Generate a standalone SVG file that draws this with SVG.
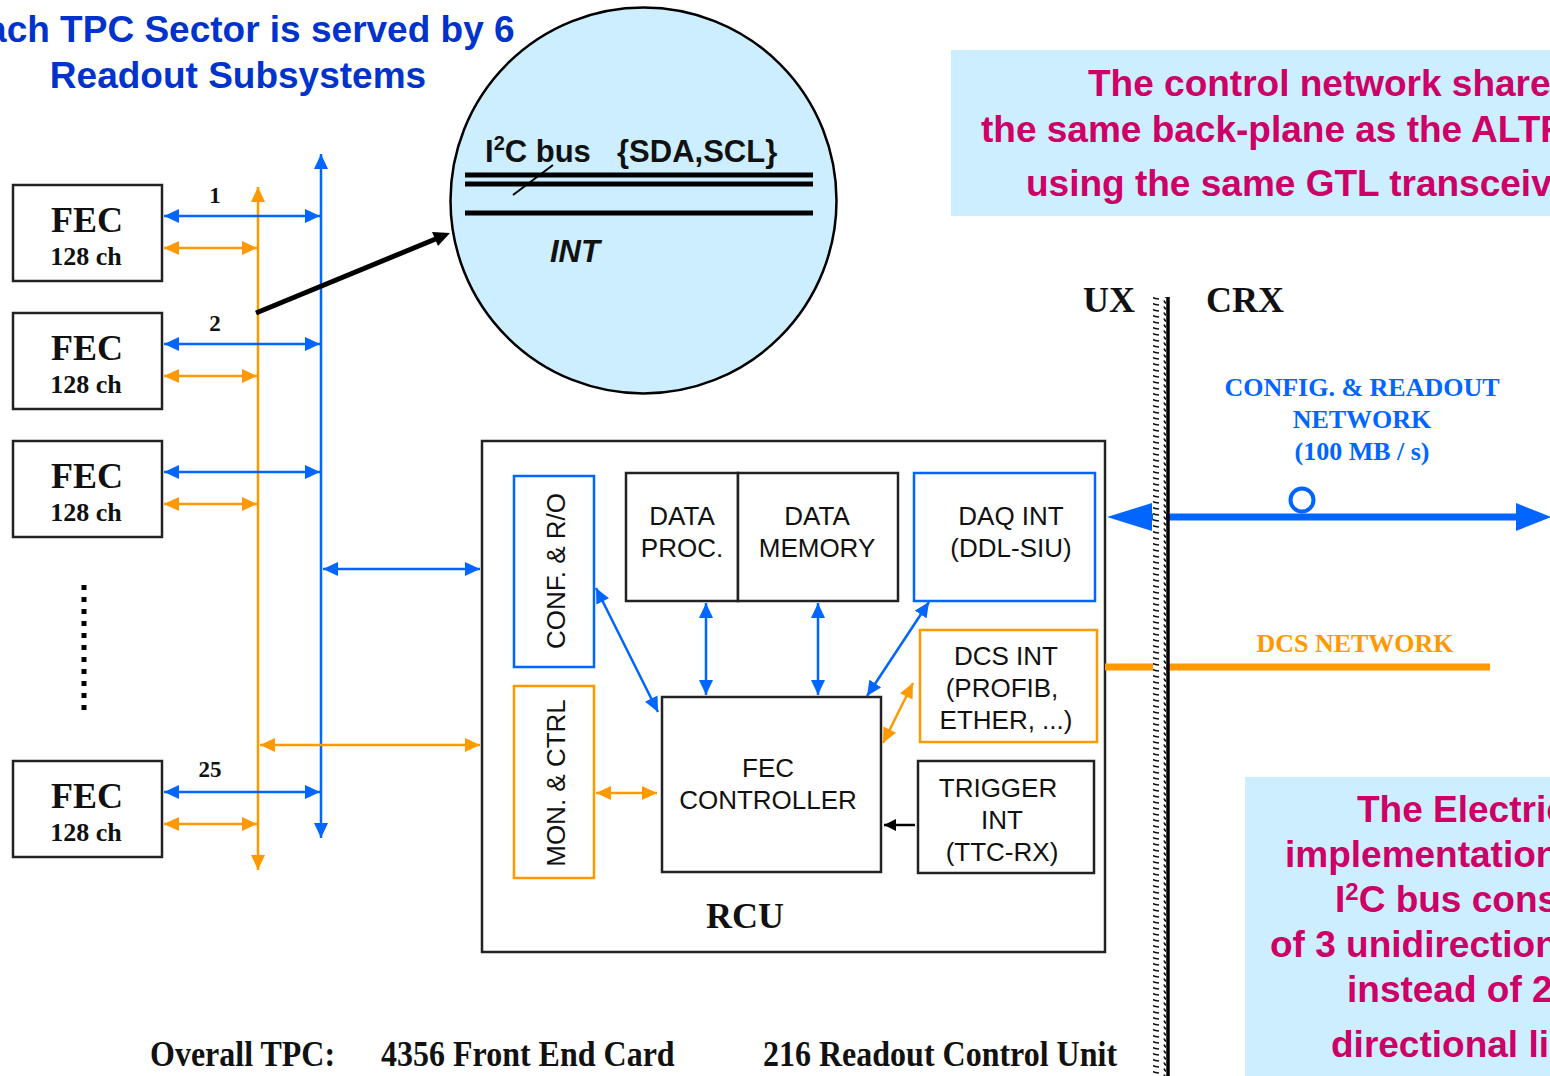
<svg xmlns="http://www.w3.org/2000/svg" width="1550" height="1076" viewBox="0 0 1550 1076">
<style>
.box{fill:#fff;stroke:#222;stroke-width:2.5}
.bbox{fill:#fff;stroke:#0066ff;stroke-width:2.5}
.obox{fill:#fff;stroke:#ff9900;stroke-width:2.5}
.tb{font-family:"Liberation Serif","Times New Roman",serif;font-weight:bold;fill:#111}
.ar{font-family:"Liberation Sans",Arial,sans-serif;fill:#111}
.blue{stroke:#0066ff;stroke-width:2.5;fill:none}
.orange{stroke:#ff9900;stroke-width:2.5;fill:none}
.mag{font-family:"Liberation Sans",Arial,sans-serif;font-weight:bold;fill:#cc0066;font-size:37px}
.bl{marker-start:url(#mb);marker-end:url(#mb)}
.ol{marker-start:url(#mo);marker-end:url(#mo)}
</style>
<defs>
<marker id="mb" viewBox="0 0 15 14" refX="15" refY="7" markerWidth="15" markerHeight="14" markerUnits="userSpaceOnUse" orient="auto-start-reverse"><path d="M0,0 L15,7 L0,14 z" fill="#0066ff"/></marker>
<marker id="mo" viewBox="0 0 15 14" refX="15" refY="7" markerWidth="15" markerHeight="14" markerUnits="userSpaceOnUse" orient="auto-start-reverse"><path d="M0,0 L15,7 L0,14 z" fill="#ff9900"/></marker>
<marker id="mk" viewBox="0 0 12 12" refX="12" refY="6" markerWidth="12" markerHeight="12" markerUnits="userSpaceOnUse" orient="auto"><path d="M0,0 L12,6 L0,12 z" fill="#000"/></marker>
<pattern id="hatch" width="14" height="6" patternUnits="userSpaceOnUse"><rect width="14" height="6" fill="#fff"/><path d="M2,0.5 Q3,4.5 11,5" stroke="#111" stroke-width="1.6" fill="none"/></pattern>
</defs>
<rect width="1550" height="1076" fill="#fff"/>

<g id="title" font-family="'Liberation Sans',Arial,sans-serif" font-weight="bold" font-size="37" fill="#0033cc" text-anchor="middle">
<text x="238" y="42">Each TPC Sector is served by 6</text>
<text x="238" y="88">Readout Subsystems</text>
</g>

<g id="note-top">
<rect x="951" y="50" width="600" height="166" fill="#cceeff"/>
<text class="mag" x="1088" y="96">The control network share</text>
<text class="mag" x="981" y="142">the same back-plane as the ALTR</text>
<text class="mag" x="1026" y="196">using the same GTL transceiv</text>
</g>

<g id="note-bottom">
<rect x="1245" y="777" width="306" height="300" fill="#cceeff"/>
<text class="mag" x="1357" y="822">The Electric</text>
<text class="mag" x="1285" y="867">implementation</text>
<text class="mag" x="1335" y="912">I<tspan font-size="24" dy="-12">2</tspan><tspan dy="12">C bus cons</tspan></text>
<text class="mag" x="1270" y="957">of 3 unidirection</text>
<text class="mag" x="1347" y="1002">instead of 2</text>
<text class="mag" x="1331" y="1057">directional li</text>
</g>

<g id="zoom-circle">
<circle cx="643.5" cy="200.5" r="193" fill="#cceeff" stroke="#000" stroke-width="2.5"/>
<text class="ar" font-weight="bold" font-size="31" x="485" y="162">I<tspan font-size="20" dy="-12">2</tspan><tspan dy="12">C bus</tspan></text>
<text class="ar" font-weight="bold" font-size="31" x="617" y="162">{SDA,SCL}</text>
<line x1="465" y1="175" x2="813" y2="175" stroke="#000" stroke-width="5"/>
<line x1="465" y1="184" x2="813" y2="184" stroke="#000" stroke-width="5"/>
<line x1="465" y1="213" x2="813" y2="213" stroke="#000" stroke-width="5"/>
<line x1="513" y1="195" x2="553" y2="165" stroke="#000" stroke-width="2"/>
<text class="ar" font-weight="bold" font-style="italic" font-size="31" x="550" y="262">INT</text>
</g>

<g id="fec1">
<rect class="box" x="13" y="185" width="149" height="96"/>
<text class="tb" font-size="36" x="87" y="232" text-anchor="middle">FEC</text>
<text class="tb" font-size="26" x="86" y="265" text-anchor="middle">128 ch</text>
<text class="tb" font-size="23" x="215" y="203" text-anchor="middle">1</text>
</g>
<g id="fec2">
<rect class="box" x="13" y="313" width="149" height="96"/>
<text class="tb" font-size="36" x="87" y="360" text-anchor="middle">FEC</text>
<text class="tb" font-size="26" x="86" y="393" text-anchor="middle">128 ch</text>
<text class="tb" font-size="23" x="215" y="331" text-anchor="middle">2</text>
</g>
<g id="fec3">
<rect class="box" x="13" y="441" width="149" height="96"/>
<text class="tb" font-size="36" x="87" y="488" text-anchor="middle">FEC</text>
<text class="tb" font-size="26" x="86" y="521" text-anchor="middle">128 ch</text>
</g>
<g id="fec25">
<rect class="box" x="13" y="761" width="149" height="96"/>
<text class="tb" font-size="36" x="87" y="808" text-anchor="middle">FEC</text>
<text class="tb" font-size="26" x="86" y="841" text-anchor="middle">128 ch</text>
<text class="tb" font-size="23" x="210" y="777" text-anchor="middle">25</text>
</g>
<g id="ellipsis">
<line x1="84" y1="585" x2="84" y2="712" stroke="#000" stroke-width="5" stroke-dasharray="5 7"/>
</g>

<g id="rcu">
<rect class="box" x="482" y="441" width="623" height="511" stroke-width="3"/>
<text class="tb" font-size="36" x="745" y="928" text-anchor="middle">RCU</text>
</g>
<g id="conf-ro">
<rect class="bbox" x="514" y="476" width="80" height="191"/>
<text class="ar" font-size="26" text-anchor="middle" transform="translate(565,571) rotate(-90)">CONF. &amp; R/O</text>
</g>
<g id="mon-ctrl">
<rect class="obox" x="514" y="686" width="80" height="192"/>
<text class="ar" font-size="26" text-anchor="middle" transform="translate(565,783) rotate(-90)">MON. &amp; CTRL</text>
</g>
<g id="data-proc">
<rect class="box" x="626" y="473" width="112" height="128"/>
<text class="ar" font-size="26" text-anchor="middle" x="682" y="525">DATA</text>
<text class="ar" font-size="26" text-anchor="middle" x="682" y="557">PROC.</text>
</g>
<g id="data-memory">
<rect class="box" x="738" y="473" width="160" height="128"/>
<text class="ar" font-size="26" text-anchor="middle" x="817" y="525">DATA</text>
<text class="ar" font-size="26" text-anchor="middle" x="817" y="557">MEMORY</text>
</g>
<g id="daq-int">
<rect class="bbox" x="914" y="473" width="181" height="128"/>
<text class="ar" font-size="26" text-anchor="middle" x="1011" y="525">DAQ INT</text>
<text class="ar" font-size="26" text-anchor="middle" x="1011" y="557">(DDL-SIU)</text>
</g>
<g id="dcs-int">
<rect class="obox" x="920" y="630" width="177" height="112"/>
<text class="ar" font-size="26" text-anchor="middle" x="1006" y="665">DCS INT</text>
<text class="ar" font-size="26" text-anchor="middle" x="1002" y="697">(PROFIB,</text>
<text class="ar" font-size="26" text-anchor="middle" x="1006" y="729">ETHER, ...)</text>
</g>
<g id="fec-controller">
<rect class="box" x="662" y="697" width="219" height="175"/>
<text class="ar" font-size="26" text-anchor="middle" x="768" y="777">FEC</text>
<text class="ar" font-size="26" text-anchor="middle" x="768" y="809">CONTROLLER</text>
</g>
<g id="trigger-int">
<rect class="box" x="918" y="761" width="176" height="112"/>
<text class="ar" font-size="26" text-anchor="middle" x="998" y="797">TRIGGER</text>
<text class="ar" font-size="26" text-anchor="middle" x="1002" y="829">INT</text>
<text class="ar" font-size="26" text-anchor="middle" x="1002" y="861">(TTC-RX)</text>
</g>

<g id="labels-right">
<text class="tb" font-size="36" x="1083" y="312">UX</text>
<text class="tb" font-size="36" x="1206" y="312">CRX</text>
<g class="tb" font-size="26" style="fill:#0066ff" text-anchor="middle">
<text x="1362" y="396">CONFIG. &amp; READOUT</text>
<text x="1362" y="428">NETWORK</text>
<text x="1362" y="460">(100 MB / s)</text>
</g>
<text class="tb" font-size="26" style="fill:#ff9900" x="1355" y="652" text-anchor="middle">DCS NETWORK</text>
</g>

<g id="connectors">
<line class="orange" x1="258" y1="187" x2="258" y2="870" marker-start="url(#mo)" marker-end="url(#mo)"/>
<line class="blue" x1="321" y1="154" x2="321" y2="838" marker-start="url(#mb)" marker-end="url(#mb)"/>
<line class="blue bl" x1="164" y1="216" x2="320" y2="216"/>
<line class="orange ol" x1="164" y1="248" x2="257" y2="248"/>
<line class="blue bl" x1="164" y1="344" x2="320" y2="344"/>
<line class="orange ol" x1="164" y1="376" x2="257" y2="376"/>
<line class="blue bl" x1="164" y1="472" x2="320" y2="472"/>
<line class="orange ol" x1="164" y1="504" x2="257" y2="504"/>
<line class="blue bl" x1="164" y1="792" x2="320" y2="792"/>
<line class="orange ol" x1="164" y1="824" x2="257" y2="824"/>
<line class="blue bl" x1="323" y1="569" x2="480" y2="569"/>
<line class="orange ol" x1="260" y1="745" x2="480" y2="745"/>
<line x1="256" y1="313" x2="438" y2="238" stroke="#000" stroke-width="5"/>
<path d="M450,233 L432,232 L438,246 z" fill="#000"/>
<line class="blue bl" x1="596" y1="588" x2="658" y2="712"/>
<line class="blue bl" x1="706" y1="603" x2="706" y2="695"/>
<line class="blue bl" x1="818" y1="603" x2="818" y2="695"/>
<line class="blue bl" x1="929" y1="602" x2="867" y2="696"/>
<line class="orange ol" x1="913" y1="683" x2="883" y2="743"/>
<line class="orange ol" x1="596" y1="793" x2="657" y2="793"/>
<line x1="915" y1="825" x2="884" y2="825" stroke="#000" stroke-width="2.5" marker-end="url(#mk)"/>
<line x1="1140" y1="517" x2="1520" y2="517" stroke="#0066ff" stroke-width="7"/>
<path d="M1107,517 L1152,503 L1152,531 z" fill="#0066ff"/>
<path d="M1551,517 L1516,503 L1516,531 z" fill="#0066ff"/>
<circle cx="1302" cy="500" r="11.5" fill="#fff" stroke="#0066ff" stroke-width="4"/>
<line x1="1105" y1="667" x2="1490" y2="667" stroke="#ff9900" stroke-width="7"/>
</g>

<g id="wall">
<rect x="1153" y="297" width="13" height="780" fill="url(#hatch)"/>
<line x1="1168" y1="297" x2="1168" y2="1076" stroke="#000" stroke-width="3.5"/>
</g>

<g id="footer" class="tb">
<text font-size="32" transform="translate(150,1066) scale(1,1.12)">Overall TPC:</text>
<text font-size="32" transform="translate(381,1066) scale(1,1.12)">4356 Front End Card</text>
<text font-size="32" transform="translate(763,1066) scale(1,1.12)">216 Readout Control Unit</text>
</g>
</svg>
